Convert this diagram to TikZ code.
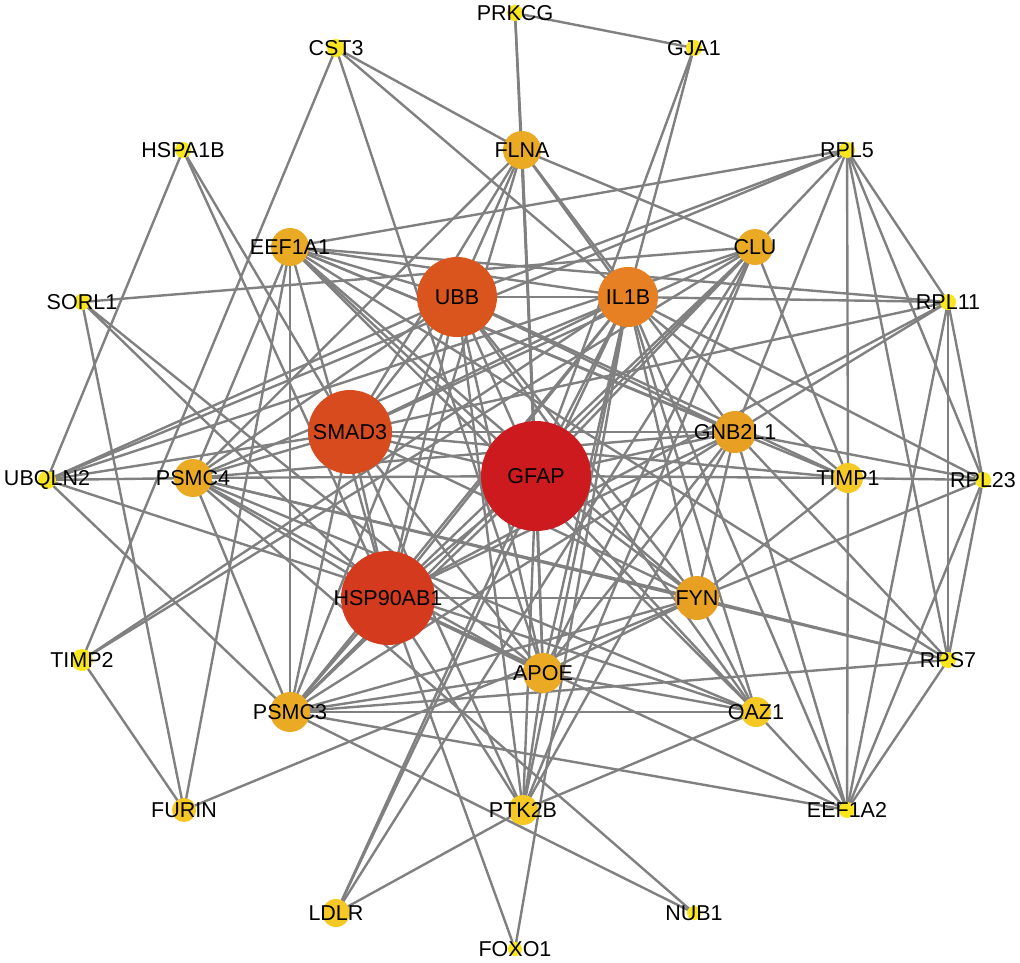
\documentclass[tikz,border=0pt]{standalone}
\usepackage{fontspec}
\setmainfont{Liberation Sans}
\usetikzlibrary{backgrounds}
\definecolor{cA}{RGB}{204,26,30}
\definecolor{cB}{RGB}{212,58,30}
\definecolor{cC}{RGB}{215,75,30}
\definecolor{cD}{RGB}{218,85,30}
\definecolor{cE}{RGB}{230,128,35}
\definecolor{cF}{RGB}{235,170,35}
\definecolor{cG}{RGB}{232,160,35}
\definecolor{cH}{RGB}{245,200,35}
\definecolor{cI}{RGB}{250,230,30}
\definecolor{edgegray}{RGB}{128,128,128}
\tikzset{
  gene/.style={circle,draw=none,inner sep=0pt},
  lbl/.style={inner sep=0pt,font=\fontsize{21.5}{21.5}\selectfont,text=black},
  edge/.style={draw=edgegray,line width=2.4pt}
}
\newcommand{\gene}[5]{% name, x, y, radius, color
  \node[gene,fill=#5,minimum size=#4*2pt] (#1) at (#2,#3) {};
  \node[lbl] (#1-t) at (#2,#3) {#1};
}
\begin{document}
\begin{tikzpicture}[x=1pt,y=-1pt]
\useasboundingbox (0,0) rectangle (1020,962);
\gene{PRKCG}{515}{13}{8}{cI}
\gene{GJA1}{694}{48}{8}{cI}
\gene{CST3}{336}{48}{9}{cI}
\gene{HSPA1B}{183}{150}{8}{cI}
\gene{FLNA}{522}{150}{19}{cF}
\gene{RPL5}{847}{150}{8}{cI}
\gene{EEF1A1}{290}{247}{19}{cF}
\gene{CLU}{755}{247}{18}{cF}
\gene{UBB}{457}{297}{40}{cD}
\gene{IL1B}{628}{297}{30}{cE}
\gene{SORL1}{82}{302}{8}{cI}
\gene{RPL11}{948}{302}{8}{cI}
\gene{SMAD3}{350}{432}{42}{cC}
\gene{GNB2L1}{735}{432}{21}{cG}
\gene{GFAP}{536}{476}{55}{cA}
\gene{UBQLN2}{47}{480}{9}{cI}
\gene{PSMC4}{193}{478}{19}{cF}
\gene{TIMP1}{848}{478}{15}{cH}
\gene{RPL23}{983}{480}{8}{cI}
\gene{HSP90AB1}{388}{598}{47}{cB}
\gene{FYN}{697}{598}{22}{cG}
\gene{TIMP2}{82}{660}{11}{cI}
\gene{RPS7}{948}{660}{8}{cI}
\gene{APOE}{543}{673}{20}{cF}
\gene{PSMC3}{290}{712}{20}{cF}
\gene{OAZ1}{756}{712}{15}{cH}
\gene{FURIN}{184}{810}{12}{cH}
\gene{PTK2B}{523}{810}{15}{cH}
\gene{EEF1A2}{847}{810}{8}{cI}
\gene{LDLR}{336}{913}{14}{cH}
\gene{NUB1}{694}{913}{7}{cI}
\gene{FOXO1}{515}{949}{7}{cI}
\begin{scope}[on background layer]
\foreach \a/\b in {
 PRKCG/GJA1, PRKCG/FLNA, PRKCG/GFAP,
 GJA1/IL1B, GJA1/GFAP,
 CST3/FLNA, CST3/IL1B, CST3/APOE, CST3/TIMP2,
 HSPA1B/UBQLN2, HSPA1B/SMAD3, HSPA1B/HSP90AB1,
 SORL1/CLU, SORL1/FURIN, SORL1/HSP90AB1, SORL1/APOE,
 UBQLN2/PSMC4, UBQLN2/UBB, UBQLN2/CLU, UBQLN2/SMAD3, UBQLN2/PSMC3, UBQLN2/OAZ1, UBQLN2/RPL5,
 TIMP2/FURIN, TIMP2/IL1B, TIMP2/CLU,
 FURIN/EEF1A1, FURIN/FYN,
 LDLR/PTK2B, LDLR/GFAP, LDLR/IL1B, LDLR/CLU,
 FOXO1/HSP90AB1, FOXO1/IL1B,
 NUB1/PSMC3, NUB1/PSMC4,
 EEF1A2/RPS7, EEF1A2/RPL23, EEF1A2/RPL11, EEF1A2/TIMP1, EEF1A2/OAZ1, EEF1A2/GNB2L1, EEF1A2/IL1B, EEF1A2/PSMC3, EEF1A2/HSP90AB1,
 RPS7/RPL11, RPS7/RPL5, RPS7/RPL23, RPS7/FYN, RPS7/PSMC4, RPS7/PSMC3, RPS7/GNB2L1, RPS7/EEF1A1,
 RPL23/TIMP1, RPL23/RPL5, RPL23/RPL11, RPL23/FYN, RPL23/GNB2L1, RPL23/IL1B,
 RPL11/RPL5, RPL11/IL1B, RPL11/EEF1A1, RPL11/SMAD3, RPL11/GNB2L1, RPL11/HSP90AB1,
 RPL5/CLU, RPL5/TIMP1, RPL5/EEF1A1, RPL5/UBB, RPL5/GNB2L1,
 FLNA/CLU, FLNA/UBB, FLNA/SMAD3, FLNA/GFAP, FLNA/IL1B, FLNA/HSP90AB1, FLNA/GNB2L1, FLNA/APOE, FLNA/PSMC4,
 EEF1A1/UBB, EEF1A1/IL1B, EEF1A1/GNB2L1, EEF1A1/TIMP1, EEF1A1/OAZ1, EEF1A1/GFAP, EEF1A1/PSMC3, EEF1A1/PSMC4, EEF1A1/HSP90AB1, EEF1A1/FYN,
 CLU/GFAP, CLU/HSP90AB1, CLU/SMAD3, CLU/PTK2B, CLU/TIMP1, CLU/APOE, CLU/PSMC3,
 UBB/SMAD3, UBB/GFAP, UBB/HSP90AB1, UBB/PSMC4, UBB/PSMC3, UBB/APOE, UBB/FYN, UBB/OAZ1, UBB/PTK2B, UBB/GNB2L1, UBB/TIMP1, UBB/IL1B,
 IL1B/SMAD3, IL1B/GFAP, IL1B/HSP90AB1, IL1B/PSMC4, IL1B/PSMC3, IL1B/APOE, IL1B/FYN, IL1B/PTK2B, IL1B/OAZ1, IL1B/TIMP1,
 SMAD3/GFAP, SMAD3/HSP90AB1, SMAD3/PSMC4, SMAD3/PSMC3, SMAD3/GNB2L1, SMAD3/APOE, SMAD3/FYN, SMAD3/PTK2B, SMAD3/TIMP1,
 GNB2L1/GFAP, GNB2L1/PSMC4, GNB2L1/HSP90AB1, GNB2L1/FYN, GNB2L1/APOE, GNB2L1/PSMC3, GNB2L1/PTK2B,
 GFAP/PSMC4, GFAP/TIMP1, GFAP/HSP90AB1, GFAP/FYN, GFAP/APOE, GFAP/PSMC3, GFAP/OAZ1, GFAP/PTK2B,
 HSP90AB1/PSMC4, HSP90AB1/PSMC3, HSP90AB1/APOE, HSP90AB1/FYN, HSP90AB1/PTK2B,
 PSMC4/PSMC3, PSMC4/OAZ1, PSMC4/FYN, PSMC4/APOE,
 FYN/OAZ1, FYN/APOE, FYN/TIMP1, FYN/PSMC3,
 APOE/PSMC3, APOE/PTK2B, APOE/OAZ1,
 PSMC3/OAZ1, PTK2B/OAZ1}
 \draw[edge] (\a.center) -- (\b.center);
\end{scope}
\end{tikzpicture}
\end{document}
